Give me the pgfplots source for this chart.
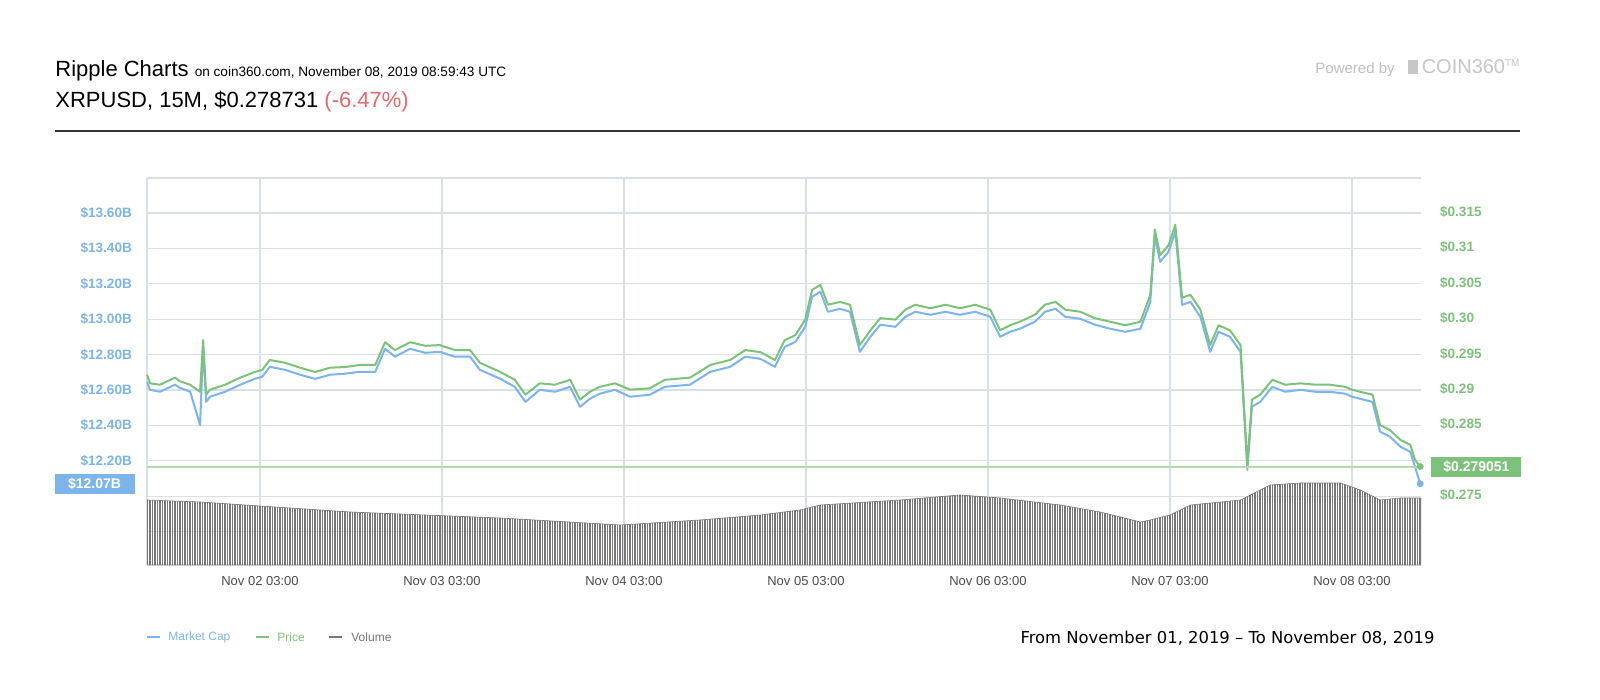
\documentclass[border=0pt]{standalone}
\usepackage{pgfplots}
\pgfplotsset{compat=1.18}
\usepackage{pgfplotstable}
\usepackage{fontspec}
\setmainfont{Liberation Sans}
\newfontfamily\dv{DejaVu Sans}
\usetikzlibrary{patterns.meta}
\definecolor{capc}{HTML}{7CB5EC}
\definecolor{pricec}{HTML}{7DC27A}
\definecolor{gridc}{HTML}{D8E0E8}
\definecolor{volc}{HTML}{777777}
\definecolor{redc}{HTML}{E8676B}
\pgfplotstableread{
h p
12.1 0.2920
12.5 0.2908
13.8 0.2906
15.8 0.2916
16.4 0.2911
17.8 0.2906
19.1 0.2896
19.5 0.2969
19.9 0.2892
20.4 0.2899
22.4 0.2906
24.4 0.2916
26.3 0.2924
27.3 0.2927
28.3 0.2941
30.3 0.2937
32.3 0.2930
34.3 0.2924
36.2 0.2930
38.2 0.2931
40.2 0.2934
42.2 0.2934
43.5 0.2966
44.8 0.2955
46.8 0.2966
48.8 0.2961
50.7 0.2962
52.7 0.2955
54.7 0.2955
56.0 0.2937
58.7 0.2924
60.6 0.2913
62.0 0.2892
63.9 0.2908
65.9 0.2906
67.9 0.2913
69.2 0.2885
70.5 0.2896
71.8 0.2903
73.8 0.2908
75.8 0.2899
78.4 0.2901
80.4 0.2913
83.7 0.2916
86.4 0.2934
89.0 0.2941
91.0 0.2955
93.0 0.2952
94.9 0.2941
96.2 0.2969
97.6 0.2976
98.9 0.2998
99.8 0.3040
100.9 0.3047
101.9 0.3019
103.5 0.3023
104.8 0.3019
106.1 0.2962
107.5 0.2983
108.8 0.3000
110.8 0.2998
112.1 0.3012
113.4 0.3019
115.4 0.3014
117.4 0.3019
119.3 0.3014
121.3 0.3019
123.3 0.3012
124.6 0.2983
125.9 0.2990
127.2 0.2995
129.2 0.3005
130.5 0.3019
131.9 0.3023
133.2 0.3012
135.2 0.3009
137.1 0.3000
139.1 0.2995
141.1 0.2990
143.1 0.2995
144.4 0.3033
145.0 0.3125
145.7 0.3089
146.8 0.3103
147.7 0.3132
148.6 0.3029
149.7 0.3033
151.0 0.3012
152.3 0.2962
153.4 0.2990
154.9 0.2983
156.3 0.2962
157.2 0.2793
157.8 0.2885
158.9 0.2892
160.5 0.2913
162.2 0.2906
164.2 0.2908
166.2 0.2906
168.1 0.2906
170.1 0.2903
171.0 0.2899
172.1 0.2896
173.7 0.2892
174.7 0.2849
176.0 0.2842
177.4 0.2828
178.7 0.2821
179.3 0.2800
180.0 0.2790
}\pricetab
\pgfplotstableread{
h c
12.1 12.646
12.5 12.601
13.8 12.590
15.8 12.630
16.4 12.613
17.8 12.590
19.1 12.402
19.5 12.844
19.9 12.533
20.4 12.562
22.4 12.590
24.4 12.630
26.3 12.663
27.3 12.675
28.3 12.731
30.3 12.714
32.3 12.686
34.3 12.663
36.2 12.686
38.2 12.692
40.2 12.703
42.2 12.703
43.5 12.833
44.8 12.788
46.8 12.833
48.8 12.810
50.7 12.816
52.7 12.788
54.7 12.788
56.0 12.714
58.7 12.663
60.6 12.618
62.0 12.533
63.9 12.601
65.9 12.590
67.9 12.618
69.2 12.505
70.5 12.550
71.8 12.579
73.8 12.601
75.8 12.562
78.4 12.573
80.4 12.618
83.7 12.630
86.4 12.703
89.0 12.731
91.0 12.788
93.0 12.776
94.9 12.731
96.2 12.844
97.6 12.872
98.9 12.957
99.8 13.127
100.9 13.155
101.9 13.042
103.5 13.059
104.8 13.042
106.1 12.816
107.5 12.901
108.8 12.969
110.8 12.957
112.1 13.014
113.4 13.042
115.4 13.025
117.4 13.042
119.3 13.025
121.3 13.042
123.3 13.014
124.6 12.901
125.9 12.929
127.2 12.946
129.2 12.986
130.5 13.042
131.9 13.059
133.2 13.014
135.2 13.002
137.1 12.969
139.1 12.946
141.1 12.929
143.1 12.946
144.4 13.098
145.0 13.466
145.7 13.324
146.8 13.381
147.7 13.494
148.6 13.081
149.7 13.098
151.0 13.014
152.3 12.816
153.4 12.929
154.9 12.901
156.3 12.816
157.2 12.148
157.8 12.505
158.9 12.533
160.5 12.618
162.2 12.590
164.2 12.601
166.2 12.590
168.1 12.590
170.1 12.579
171.0 12.562
172.1 12.550
173.7 12.533
174.7 12.364
176.0 12.336
177.4 12.279
178.7 12.251
179.3 12.166
180.0 12.070
}\captab
\pgfplotstableread{
h v
12.1 65
19.1 63
27.0 59
38.9 53
58.7 47
74.5 40
85.0 45
93.0 50
98.2 55
100.9 60
111.4 65
119.3 70
124.6 67
132.5 60
137.8 53
143.1 43
144.4 45
147.0 50
149.7 60
156.3 65
160.2 80
164.2 82
169.5 82
172.1 75
174.7 65
177.4 67
180.1 67
}\voltab
\pgfplotsset{myax/.style={at={(73.5pt,-282.5pt)},anchor=south west,scale only axis,width=637pt,height=193.5pt,xmin=12.1,xmax=180.1}}
\begin{document}
\begin{tikzpicture}[x=0.5pt,y=0.5pt]
\fill[white] (0,0) rectangle (1600,-700);
% header
\node[anchor=base west,inner sep=0] at (55,-77) {\fontsize{11}{12}\selectfont Ripple Charts \fontsize{6.8}{8}\selectfont on coin360.com, November 08, 2019 08:59:43 UTC};
\node[anchor=base west,inner sep=0] at (55,-108) {\fontsize{11}{12}\selectfont XRPUSD, 15M, \$0.278731 \textcolor{redc}{(-6.47\%)}};
\draw[line width=1pt,black!80] (55,-131) -- (1520,-131);
\node[anchor=base east,inner sep=0,text=black!25] at (1395,-74) {\fontsize{7.5}{9}\selectfont Powered by};
\node[anchor=base west,inner sep=0,text=black!22] at (1408,-74) {\fontsize{10}{12}\selectfont \rule{5pt}{7pt}\,COIN360\textsuperscript{\tiny TM}};
\begin{axis}[myax,ymin=11.611,ymax=13.798,
  axis line style={draw=none},
  xtick={27,51,75,99,123,147,171},
  xticklabels={Nov 02 03:00,Nov 03 03:00,Nov 04 03:00,Nov 05 03:00,Nov 06 03:00,Nov 07 03:00,Nov 08 03:00},
  ytick={11.8,12.0,12.2,12.4,12.6,12.8,13.0,13.2,13.4,13.6},
  yticklabels={,,\$12.20B,\$12.40B,\$12.60B,\$12.80B,\$13.00B,\$13.20B,\$13.40B,\$13.60B},
  grid=major, grid style={gridc,line width=0.6pt},
  major tick length=0pt,
  tick label style={font=\fontsize{6.5}{8}\selectfont},
  yticklabel style={text=capc,font=\fontsize{6.8}{8}\selectfont\bfseries,xshift=-4pt},
  xticklabel style={text=black!70,yshift=-2pt},
  clip=false]
\draw[gridc,line width=0.6pt] (axis cs:12.1,13.798)--(axis cs:180.1,13.798);
\draw[gridc,line width=0.6pt] (axis cs:12.1,11.611)--(axis cs:12.1,13.798);
\end{axis}
\begin{axis}[myax,ymin=0,ymax=387,axis lines=none]
\addplot[draw=volc,line width=0.3pt,pattern={Lines[angle=90,distance=1.25pt,line width=0.55pt]},pattern color=volc] table[x=h,y=v]{\voltab} \closedcycle;
\end{axis}
\begin{axis}[myax,ymin=11.611,ymax=13.798,axis lines=none,clip=false]
\addplot[capc,line width=1pt,line join=round] table[x=h,y=c]{\captab};
\addplot[only marks,mark=*,mark size=1.5pt,capc] coordinates {(180.0,12.070)};
\node[fill=capc,text=white,anchor=east,minimum width=40pt,minimum height=10pt,inner sep=0,font=\fontsize{7}{8}\selectfont\bfseries] at (axis cs:12.1,12.070) [xshift=-6pt] {\$12.07B};
\end{axis}
\begin{axis}[myax,ymin=0.26514,ymax=0.3198,
  axis x line=none, axis y line*=right, axis line style={draw=none},
  ytick={0.275,0.28,0.285,0.29,0.295,0.30,0.305,0.31,0.315},
  yticklabels={\$0.275,,\$0.285,\$0.29,\$0.295,\$0.30,\$0.305,\$0.31,\$0.315},
  major tick length=0pt,
  yticklabel style={text=pricec,font=\fontsize{6.8}{8}\selectfont\bfseries,anchor=west,xshift=6pt},
  clip=false]
\addplot[pricec!60,line width=1pt] coordinates {(12.1,0.279051) (180.1,0.279051)};
\addplot[pricec,line width=1pt,line join=round] table[x=h,y=p]{\pricetab};
\addplot[only marks,mark=*,mark size=1.5pt,pricec] coordinates {(180.0,0.279051)};
\node[fill=pricec,text=white,anchor=west,minimum width=45pt,minimum height=10pt,inner sep=0,font=\fontsize{7}{8}\selectfont\bfseries] at (axis cs:180.1,0.279051) [xshift=5pt] {\$0.279051};
\end{axis}
% legend
\draw[capc,line width=0.8pt] (147,-637)--(160,-637);
\node[anchor=west,text=capc,inner sep=0,font=\fontsize{6}{7}\selectfont] at (168,-637) {Market Cap};
\draw[pricec,line width=0.8pt] (256,-637)--(269,-637);
\node[anchor=west,text=pricec,inner sep=0,font=\fontsize{6}{7}\selectfont] at (277,-637) {Price};
\draw[volc,line width=0.8pt] (329,-637)--(342,-637);
\node[anchor=west,text=volc,inner sep=0,font=\fontsize{6}{7}\selectfont] at (351,-637) {Volume};
\node[anchor=east,inner sep=0,font=\dv\fontsize{8.2}{9}\selectfont] at (1435,-638) {From November 01, 2019 – To November 08, 2019};
\pgfresetboundingbox
\path[use as bounding box] (0,0) rectangle (1600,-700);
\end{tikzpicture}
\end{document}
